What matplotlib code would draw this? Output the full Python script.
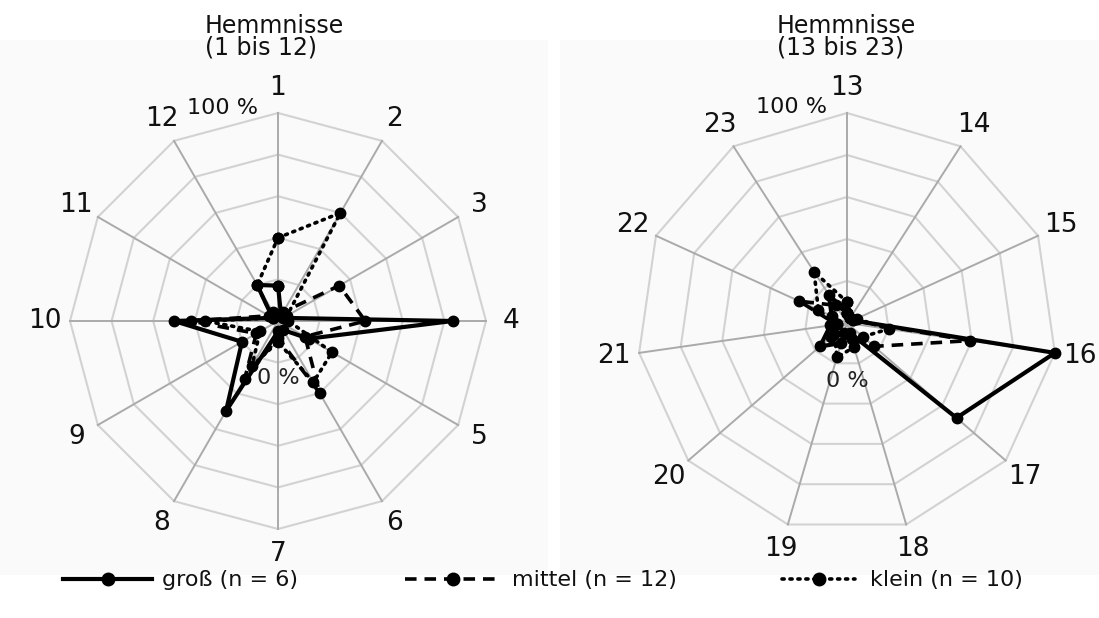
import numpy as np
import matplotlib
matplotlib.use("Agg")
import matplotlib.pyplot as plt
from matplotlib.patches import Rectangle
from matplotlib.lines import Line2D

plt.rcParams["font.family"] = ["DejaVu Sans"]

# Hemmnisse 1..12 (left), 13..23 (right); values in percent
left_labels = [str(i) for i in range(1, 13)]
left_gross = [17, 3, 3, 84, 17, 5, 5, 50, 20, 50, 3, 20]
left_mittel = [3, 5, 34, 42, 15, 40, 8, 32, 12, 42, 5, 5]
left_klein = [40, 60, 5, 5, 30, 34, 10, 25, 10, 35, 3, 20]

right_labels = [str(i) for i in range(13, 24)]
right_gross = [5, 3, 3, 100, 69, 5, 10, 17, 8, 8, 16]
right_mittel = [5, 3, 3, 59, 17, 8, 5, 10, 5, 25, 10]
right_klein = [10, 3, 5, 20, 10, 12, 17, 8, 5, 15, 29]

series_names = ["groß (n = 6)", "mittel (n = 12)", "klein (n = 10)"]
rings = [20, 40, 60, 80, 100]

STYLES = [
    dict(linestyle="-", linewidth=3.0),
    dict(linestyle=(0, (3.2, 2.2)), linewidth=2.6),
    dict(linestyle=(0, (0.6, 1.6)), linewidth=2.6, dash_capstyle="round"),
]

fig = plt.figure(figsize=(10.99, 6.18), dpi=100)
fig.patch.set_facecolor("white")

# very light panel backgrounds
fig.add_artist(Rectangle((0, 43 / 618), 548 / 1099, 535 / 618, transform=fig.transFigure,
                         facecolor="#fafafa", edgecolor="none", zorder=-10))
fig.add_artist(Rectangle((560 / 1099, 43 / 618), 539 / 1099, 535 / 618, transform=fig.transFigure,
                         facecolor="#fafafa", edgecolor="none", zorder=-10))


def radar(rect, labels, data, title, title_x):
    ax = fig.add_axes(rect, projection="polar")
    ax.set_theta_zero_location("N")
    ax.set_theta_direction(-1)
    ax.set_ylim(0, 100)
    ax.grid(False)
    ax.set_xticks([])
    ax.set_yticks([])
    ax.spines["polar"].set_visible(False)
    ax.patch.set_alpha(0)

    n = len(labels)
    theta = np.arange(n) * 2 * np.pi / n
    closed = np.append(theta, theta[0])
    for r in rings:
        ax.plot(closed, [r] * (n + 1), color="#d2d2d2", lw=1.5, zorder=1)
    for t in theta:
        ax.plot([t, t], [0, 100], color="#aaaaaa", lw=1.4, zorder=1)
    for t, lab in zip(theta, labels):
        ax.text(t, 112, lab, ha="center", va="center", fontsize=19, color="#111111")

    for vals, st in zip(data, STYLES):
        ax.plot(closed, np.append(vals, vals[0]), color="black", marker="o",
                markersize=7.5, zorder=3, **st)

    ax.text(np.deg2rad(-14.5), 106, "100 %", ha="center", va="center",
            fontsize=16, color="#111111")
    ax.text(np.pi, 27.5, "0 %", ha="center", va="center", fontsize=16,
            color="#222222")
    for a in ax.lines + ax.texts:
        a.set_clip_on(False)

    fig.text(title_x / 1099, 1 - 14 / 618, title, ha="left", va="top",
             fontsize=17, linespacing=0.85, color="#111111")


radar([70 / 1099, 1 - 529 / 618, 416 / 1099, 416 / 618], left_labels,
      [left_gross, left_mittel, left_klein], "Hemmnisse\n(1 bis 12)", 205)
radar([637 / 1099, 1 - 533 / 618, 420 / 1099, 420 / 618], right_labels,
      [right_gross, right_mittel, right_klein], "Hemmnisse\n(13 bis 23)", 777)

# legend drawn in pixel-like coordinates
lax = fig.add_axes([0, 0, 1, 1])
lax.set_xlim(0, 1099)
lax.set_ylim(618, 0)
lax.axis("off")
handle_spans = [(63, 152), (405, 500), (782, 855)]
text_x = [162, 512, 870]
for (x0, x1), tx, name, st in zip(handle_spans, text_x, series_names, STYLES):
    lax.add_line(Line2D([x0, x1], [579, 579], color="black", **st))
    lax.plot([(x0 + x1) / 2], [579], "o", color="black", markersize=9)
    lax.text(tx, 580, name, ha="left", va="center", fontsize=16,
             color="#111111")

fig.savefig("out.png", dpi=100)
